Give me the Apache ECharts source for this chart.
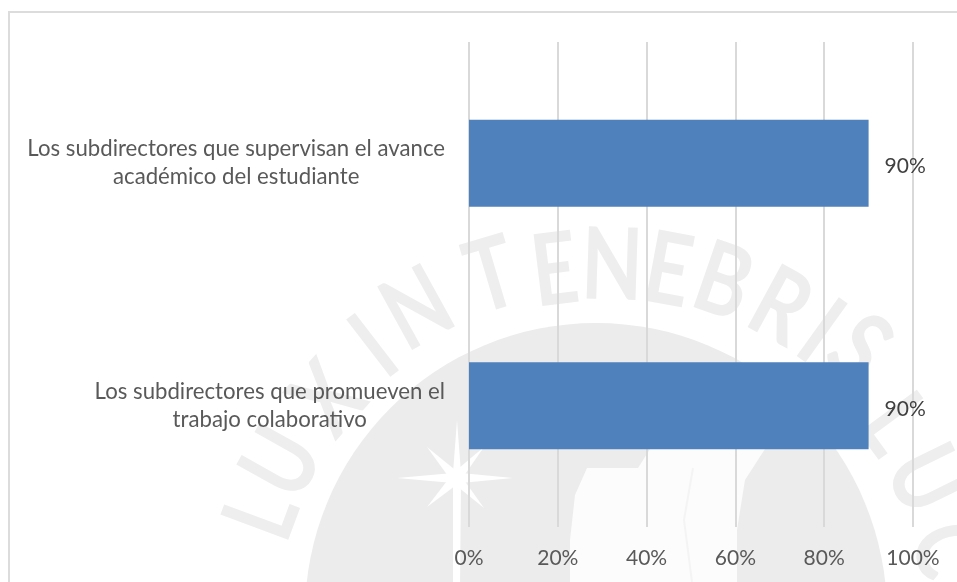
<!DOCTYPE html>
<html><head><meta charset="utf-8">
<style>html,body{margin:0;padding:0;background:#fff;overflow:hidden}#c{width:957px;height:582px}</style>
<script src="https://cdn.jsdelivr.net/npm/echarts@6/dist/echarts.min.js"></script></head>
<body><div id="c"></div>
<script>
const categories = ['Los subdirectores que promueven el\ntrabajo colaborativo','Los subdirectores que supervisan el avance\nacadémico del estudiante'];
const values = [90, 90];
const valueTicks = [0,20,40,60,80,100];
const font = 'Lato,"Noto Sans",sans-serif';
const wmColor = '#eeeeee';
const wmCenter = [600,640];
const wmLetters = [['L',263,515],['U',283,463],['X',329,400],['I',375,348],['N',418,310],['T',492,277],['E',555,272],['N',612,267],['E',668,272],['B',723,283],['R',780,308],['I',820,333],['S',858,350],['L',893,425],['U',925,480],['C',948,550]];
const wm = [
  {type:'rect',z:-3,shape:{x:9,y:12,width:960,height:590},style:{fill:'#fff',stroke:'#dcdcdc',lineWidth:2}},
  {type:'circle',z:-2,shape:{cx:596,cy:614,r:291},style:{fill:'#ececec'}},
  {type:'polygon',z:-2,smooth:0.2,shape:{points:[[587,468],[638,468],[650,449],[765,449],[745,480],[737,530],[737,600],[570,600],[570,540],[575,495]]},style:{fill:'#fcfcfc'}},
  {type:'polyline',z:-2,shape:{points:[[693,468],[684,520],[692,582]]},style:{fill:'none',stroke:'#f4f4f4',lineWidth:2}},
  {type:'polygon',z:-2,shape:{points:[[457,420],[461,473],[513,478],[461,483],[460,590],[453,590],[453,483],[397,478],[453,473]]},style:{fill:'#fff'}},
  {type:'polygon',z:-2,shape:{points:[[427,447],[459,473],[484,508],[453,483]]},style:{fill:'#fff'}},
  {type:'polygon',z:-2,shape:{points:[[427,507],[453,473],[484,447],[459,483]]},style:{fill:'#fff'}}
].concat(wmLetters.map(([ch,x,y])=>({
  type:'text',z:-2,x,y,scaleY:1.25,rotation:-Math.atan2(x-wmCenter[0],wmCenter[1]-y),
  style:{text:ch,fill:wmColor,font:'700 80px Lato,sans-serif',align:'center',verticalAlign:'middle'}
})));
const chart = echarts.init(document.getElementById('c'), null, {renderer:'canvas'});
chart.setOption({
  animation:false,
  backgroundColor:'#fff',
  graphic:wm,
  grid:{left:469,top:42,width:444,height:485,containLabel:false},
  xAxis:{type:'value',min:0,max:100,interval:20,
    axisLine:{show:false},axisTick:{show:false},
    splitLine:{show:true,lineStyle:{color:'#d9d9d9',width:2}},
    axisLabel:{formatter:'{value}%',color:'#595959',fontFamily:font,fontSize:21,margin:21}},
  yAxis:{type:'category',data:categories,
    axisLine:{show:false},axisTick:{show:false},
    axisLabel:{align:'right',margin:24,
      formatter:v=>v.split('\n').map(s=>'{a|'+s+'}').join('\n'),
      rich:{a:{align:'center',color:'#595959',fontFamily:font,fontSize:22.2,lineHeight:28}}}},
  series:[{type:'bar',data:values,barWidth:87,
    itemStyle:{color:'#4f81bd'},
    label:{show:true,position:'right',distance:16,offset:[0,3],formatter:'{c}%',color:'#404040',fontFamily:font,fontSize:21}}]
});
</script></body></html>
